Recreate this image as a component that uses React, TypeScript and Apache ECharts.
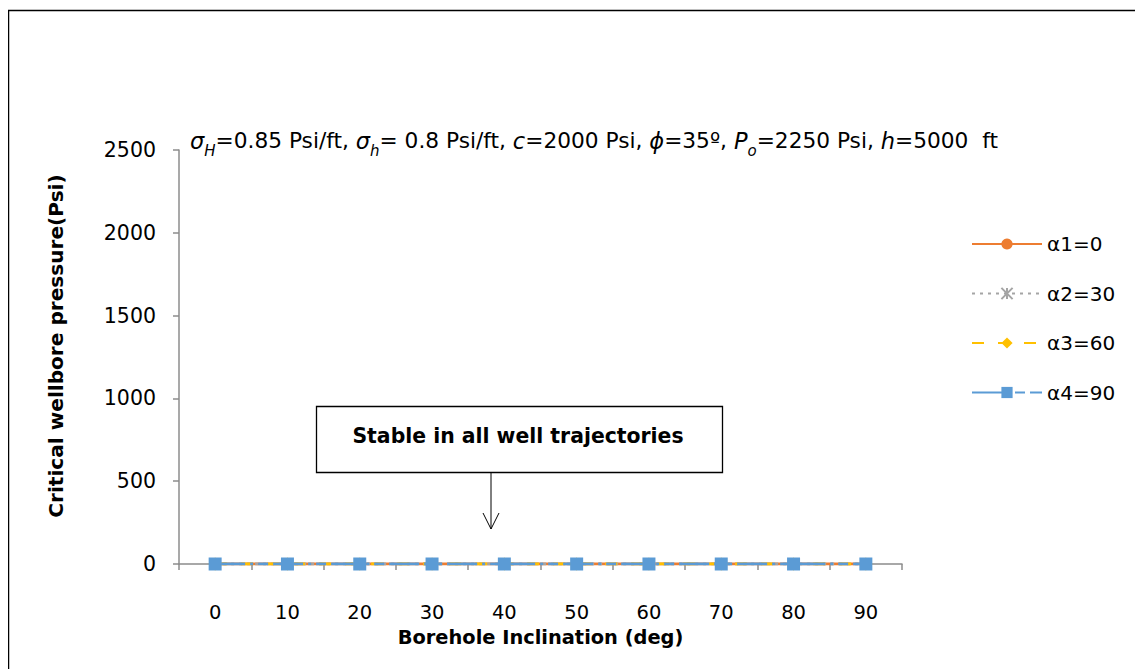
import React, { useEffect, useRef } from "react";
import * as echarts from "echarts";

const categories = ["0", "10", "20", "30", "40", "50", "60", "70", "80", "90"];
const alpha1 = [0, 0, 0, 0, 0, 0, 0, 0, 0, 0];
const alpha2 = [0, 0, 0, 0, 0, 0, 0, 0, 0, 0];
const alpha3 = [0, 0, 0, 0, 0, 0, 0, 0, 0, 0];
const alpha4 = [0, 0, 0, 0, 0, 0, 0, 0, 0, 0];
const seriesNames = ["α1=0", "α2=30", "α3=60", "α4=90"];

const FONT = "'DejaVu Sans', sans-serif";

export default function App() {
  const ref = useRef<HTMLDivElement>(null);
  useEffect(() => {
    if (!ref.current) return;
    const chart = echarts.init(ref.current, null, { renderer: "svg" });
    const italic = { fontStyle: "italic", fontSize: 22.5, fontFamily: FONT, color: "#000" };
    const sub = { fontStyle: "italic", fontSize: 15, fontFamily: FONT, color: "#000", verticalAlign: "bottom", padding: [0, 0, -6, 0] };
    chart.setOption({
      animation: false,
      backgroundColor: "#fff",
      grid: { left: 171, right: 241, top: 142, bottom: 105, containLabel: false },
      legend: {
        orient: "vertical",
        left: 958,
        top: 221,
        itemWidth: 70,
        itemHeight: 14,
        itemGap: 29.5,
        textStyle: { fontSize: 20, fontFamily: FONT, color: "#000", padding: [0, 0, 0, 0] },
        data: seriesNames,
      },
      xAxis: {
        type: "category",
        data: categories,
        boundaryGap: true,
        name: "Borehole Inclination (deg)",
        nameLocation: "middle",
        nameGap: 64,
        nameTextStyle: { fontSize: 19.4, fontWeight: "bold", fontFamily: FONT, color: "#000" },
        axisLine: { lineStyle: { color: "#8c8c8c", width: 1.5 } },
        axisTick: { show: true, length: 6, alignWithLabel: false, lineStyle: { color: "#8c8c8c", width: 1.5 } },
        axisLabel: { fontSize: 19.5, fontFamily: FONT, color: "#000", margin: 38 },
        splitLine: { show: false },
      },
      yAxis: {
        type: "value",
        min: 0,
        max: 2500,
        interval: 500,
        axisLine: { show: true, lineStyle: { color: "#8c8c8c", width: 1.5 } },
        axisTick: { show: true, length: 6, lineStyle: { color: "#8c8c8c", width: 1.5 } },
        axisLabel: { fontSize: 20.5, fontFamily: FONT, color: "#000", margin: 23, formatter: (v: number) => String(v) },
        splitLine: { show: false },
      },
      series: [
        {
          name: seriesNames[0],
          type: "line",
          data: alpha1,
          symbol: "circle",
          symbolSize: 11,
          color: "#ed7d31",
          lineStyle: { width: 3, color: "#ed7d31", type: "solid" },
          itemStyle: { color: "#ed7d31" },
        },
        {
          name: seriesNames[1],
          type: "line",
          data: alpha2,
          symbol: "path://M0,0L10,10M10,0L0,10M5,0L5,10",
          symbolSize: 11,
          color: "#a5a5a5",
          lineStyle: { width: 3, color: "#a5a5a5", type: [3, 5] },
          itemStyle: { color: "none", borderColor: "#a5a5a5", borderWidth: 1.2 },
        },
        {
          name: seriesNames[2],
          type: "line",
          data: alpha3,
          symbol: "diamond",
          symbolSize: 13,
          color: "#ffc000",
          lineStyle: { width: 3, color: "#ffc000", type: [12, 14] },
          itemStyle: { color: "#ffc000" },
        },
        {
          name: seriesNames[3],
          type: "line",
          data: alpha4,
          symbol: "rect",
          symbolSize: 13,
          color: "#5b9bd5",
          lineStyle: { width: 3, color: "#5b9bd5", type: [30, 5, 3, 5, 10, 5] },
          itemStyle: { color: "#5b9bd5" },
        },
      ],
      graphic: [
        {
          type: "rect",
          silent: true,
          shape: { x: 0.5, y: 2.5, width: 1400, height: 900 },
          style: { fill: "none", stroke: "#000", lineWidth: 1.5 },
          z: -10,
        },
        {
          type: "text",
          x: 48,
          y: 338,
          rotation: Math.PI / 2,
          style: {
            text: "Critical wellbore pressure(Psi)",
            fontSize: 20.1,
            fontWeight: "bold",
            fontFamily: FONT,
            fill: "#000",
            align: "center",
            verticalAlign: "middle",
          },
        },
        {
          type: "text",
          left: 182,
          top: 121,
          style: {
            rich: {
              i: italic,
              s: sub,
              n: { fontSize: 21.7, fontFamily: FONT, color: "#000" },
            },
            text:
              "{i|σ}{s|H}{n|=0.85 Psi/ft, }{i|σ}{s|h}{n|= 0.8 Psi/ft, }{i|c}{n|=2000 Psi, }{i|ϕ}{n|=35º, }{i|P}{s|o}{n|=2250 Psi, }{i|h}{n|=5000  ft}",
          },
        },
        {
          type: "rect",
          silent: true,
          shape: { x: 308.5, y: 398.5, width: 406, height: 66 },
          style: { fill: "#fff", stroke: "#000", lineWidth: 1.3 },
        },
        {
          type: "text",
          x: 510,
          y: 428,
          style: {
            text: "Stable in all well trajectories",
            fontSize: 20.4,
            fontWeight: "bold",
            fontFamily: FONT,
            fill: "#000",
            align: "center",
            verticalAlign: "middle",
          },
        },
        {
          type: "line",
          silent: true,
          shape: { x1: 483, y1: 465, x2: 483, y2: 521 },
          style: { stroke: "#000", lineWidth: 1 },
        },
        {
          type: "polyline",
          silent: true,
          shape: { points: [[475, 505], [483, 521], [491, 505]] },
          style: { stroke: "#000", lineWidth: 1, fill: "none" },
        },
      ],
    });
    return () => chart.dispose();
  }, []);
  return <div ref={ref} style={{ width: 1135, height: 661 }} />;
}
